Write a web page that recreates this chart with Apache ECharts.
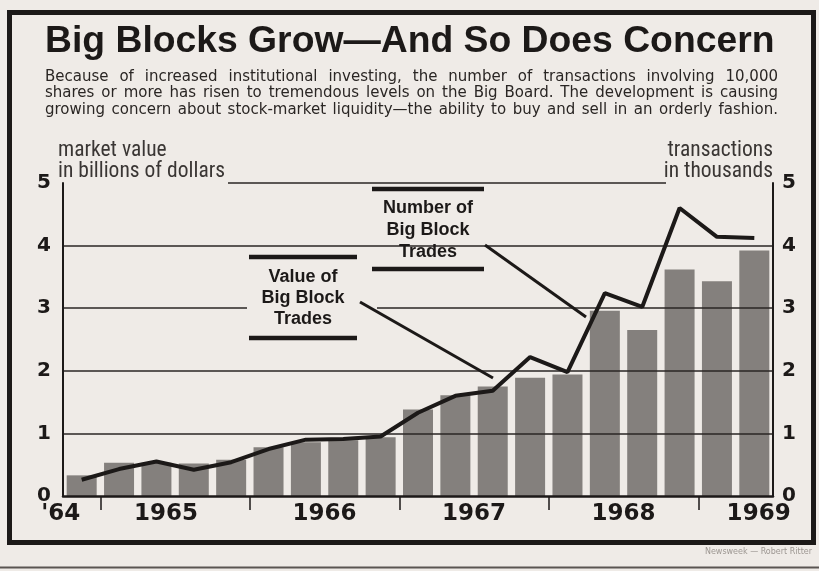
<!DOCTYPE html>
<html>
<head>
<meta charset="utf-8">
<title>Big Blocks Grow—And So Does Concern</title>
<script src="https://cdn.jsdelivr.net/npm/echarts@6/dist/echarts.min.js"></script>
<style>
  html, body { margin: 0; padding: 0; background: #efebe7; }
  #chart { width: 819px; height: 571px; }
</style>
</head>
<body>
<div id="chart"></div>
<script>
// Big block trades on the Big Board (10,000 shares or more), by quarter
const quarters = [
  '1964 Q4',
  '1965 Q1', '1965 Q2', '1965 Q3', '1965 Q4',
  '1966 Q1', '1966 Q2', '1966 Q3', '1966 Q4',
  '1967 Q1', '1967 Q2', '1967 Q3', '1967 Q4',
  '1968 Q1', '1968 Q2', '1968 Q3', '1968 Q4',
  '1969 Q1', '1969 Q2'
];
// market value, billions of dollars (bars, left axis)
const marketValue = [0.33, 0.53, 0.53, 0.52, 0.58, 0.78, 0.86, 0.89, 0.94, 1.38,
  1.61, 1.75, 1.89, 1.94, 2.96, 2.65, 3.62, 3.43, 3.92];
// number of transactions, thousands (line, right axis)
const transactions = [0.26, 0.43, 0.55, 0.42, 0.54, 0.75, 0.90, 0.91, 0.95, 1.33,
  1.60, 1.68, 2.22, 1.98, 3.24, 3.02, 4.60, 4.14, 4.12];
const yearLabels = ['\'64', '1965', '1966', '1967', '1968', '1969'];
const axisMax = 5;

const subtitleLines = [
  'Because of increased institutional investing, the number of transactions involving 10,000',
  'shares or more has risen to tremendous levels on the Big Board. The development is causing',
  'growing concern about stock-market liquidity—the ability to buy and sell in an orderly fashion.'
];

const ink = '#1c1918';
const paper = '#efebe7';
const numFont = '"DejaVu Sans"';
const nameFont = '"Liberation Sans Narrow", "Roboto Condensed", Roboto';

// where each year starts / ends along the quarter axis
const yearOf = q => q.slice(0, 4);
const yearStarts = [];
quarters.forEach((q, i) => {
  if (i === 0 || yearOf(q) !== yearOf(quarters[i - 1])) yearStarts.push(i);
});
const yearEnds = yearStarts.slice(1).concat(quarters.length);
const yearMids = yearStarts.map((s, i) => (s + yearEnds[i]) / 2);
const yearTicks = yearStarts.slice(1);

const chart = echarts.init(document.getElementById('chart'));

const option = {
  backgroundColor: paper,
  animation: false,
  title: {
    text: 'Big Blocks Grow—And So Does Concern',
    left: 45,
    top: 22,
    padding: 0,
    textStyle: {
      fontFamily: '"Liberation Sans"',
      fontWeight: 'bold',
      fontSize: 37.3,
      lineHeight: 40,
      color: ink
    }
  },
  grid: {
    left: 63,
    right: 46,
    top: 183,
    bottom: 75,
    containLabel: false
  },
  xAxis: [
    {
      type: 'category',
      data: quarters,
      z: 3,
      axisLine: { show: true, lineStyle: { color: ink, width: 2.5 } },
      axisTick: { show: false },
      axisLabel: { show: false },
      splitLine: { show: false }
    },
    {
      type: 'value',
      position: 'bottom',
      min: 0,
      max: quarters.length,
      axisLine: { show: false },
      splitLine: { show: false },
      axisTick: {
        show: true,
        customValues: yearTicks,
        length: 14,
        lineStyle: { color: ink, width: 1.5 }
      },
      axisLabel: {
        customValues: yearMids,
        margin: 7,
        color: ink,
        fontFamily: numFont,
        fontWeight: 'bold',
        fontSize: 23,
        formatter: function (val) {
          const i = yearMids.indexOf(val);
          if (i < 0) return '';
          if (i === 0) return '{first|' + yearLabels[i] + '}';
          if (i === 1) return '{second|' + yearLabels[i] + '}';
          if (i === yearMids.length - 1) return '{last|' + yearLabels[i] + '}';
          return yearLabels[i];
        },
        rich: {
          first: { fontFamily: numFont, fontWeight: 'bold', fontSize: 23, color: ink, padding: [0, 42, 0, 0] },
          second: { fontFamily: numFont, fontWeight: 'bold', fontSize: 23, color: ink, padding: [0, 18, 0, 0] },
          last: { fontFamily: numFont, fontWeight: 'bold', fontSize: 23, color: ink, padding: [0, 0, 0, 46] }
        }
      }
    }
  ],
  yAxis: [
    {
      type: 'value',
      min: 0,
      max: axisMax,
      interval: 1,
      z: 3,
      name: 'market value\nin billions of dollars',
      nameLocation: 'end',
      nameGap: 1,
      nameTextStyle: {
        align: 'left',
        verticalAlign: 'bottom',
        fontFamily: nameFont,
        fontSize: 21.5,
        lineHeight: 21,
        color: '#3a3634',
        padding: [0, 0, 0, -5]
      },
      axisLine: { show: true, lineStyle: { color: ink, width: 2 } },
      axisTick: { show: false },
      axisLabel: {
        margin: 12,
        color: ink,
        fontFamily: numFont,
        fontWeight: 'bold',
        fontSize: 20
      },
      splitLine: {
        show: true,
        showMinLine: false,
        showMaxLine: false,
        lineStyle: { color: '#2a2624', width: 1.5 }
      }
    },
    {
      type: 'value',
      min: 0,
      max: axisMax,
      interval: 1,
      z: 3,
      position: 'right',
      name: 'transactions\nin thousands',
      nameLocation: 'end',
      nameGap: 1,
      nameTextStyle: {
        align: 'right',
        verticalAlign: 'bottom',
        fontFamily: nameFont,
        fontSize: 21.5,
        lineHeight: 21,
        color: '#3a3634'
      },
      axisLine: { show: true, lineStyle: { color: ink, width: 2 } },
      axisTick: { show: false },
      axisLabel: {
        margin: 9,
        color: ink,
        fontFamily: numFont,
        fontWeight: 'bold',
        fontSize: 20
      },
      splitLine: { show: false }
    }
  ],
  series: [
    {
      name: 'Value of Big Block Trades',
      type: 'bar',
      data: marketValue,
      barWidth: 30,
      itemStyle: { color: '#84807d' }
    },
    {
      name: 'Number of Big Block Trades',
      type: 'line',
      yAxisIndex: 1,
      data: transactions,
      z: 5,
      symbol: 'none',
      lineStyle: { color: ink, width: 4 }
    }
  ]
};

chart.setOption(option);

// justified intro text, word by word between the frame margins
const subFont = '15px "DejaVu Sans"';
const measure = document.createElement('canvas').getContext('2d');
measure.font = subFont;
const subLeft = 45, subRight = 778;
const subtitleWords = [];
subtitleLines.forEach((line, li) => {
  const words = line.split(' ');
  const widths = words.map(w => measure.measureText(w).width);
  const used = widths.reduce((a, b) => a + b, 0);
  const gap = (subRight - subLeft - used) / (words.length - 1);
  let x = subLeft;
  words.forEach((w, wi) => {
    subtitleWords.push({
      type: 'text', z: 10, x: x, y: 77 + li * 16.5,
      style: { text: w, fill: '#2a2624', font: subFont, textAlign: 'left', textVerticalAlign: 'middle' }
    });
    x += widths[wi] + gap;
  });
});

// top rule at the axis maximum, running between the two axis titles
const yTop = chart.convertToPixel({ yAxisIndex: 0 }, axisMax);
const y3 = chart.convertToPixel({ yAxisIndex: 0 }, 3);

const annoText = {
  fill: ink,
  font: 'bold 18px "Liberation Sans"',
  textAlign: 'center',
  textVerticalAlign: 'top',
  lineHeight: 22
};

chart.setOption({
  graphic: subtitleWords.concat([
    // frame
    { type: 'rect', z: 10, shape: { x: 9.5, y: 12.5, width: 804, height: 530 },
      style: { fill: null, stroke: ink, lineWidth: 5 } },
    { type: 'line', z: 10, shape: { x1: 0, y1: 567.5, x2: 819, y2: 567.5 },
      style: { stroke: '#5a5552', lineWidth: 2 } },
    { type: 'line', z: 10, shape: { x1: 228, y1: yTop, x2: 666, y2: yTop },
      style: { stroke: '#2a2624', lineWidth: 1.5 } },
    // number of trades label
    { type: 'line', z: 10, shape: { x1: 372, y1: 189, x2: 484, y2: 189 },
      style: { stroke: ink, lineWidth: 4.5 } },
    { type: 'text', z: 10, x: 428, y: 197,
      style: Object.assign({ text: 'Number of\nBig Block\nTrades' }, annoText) },
    { type: 'line', z: 10, shape: { x1: 372, y1: 269, x2: 484, y2: 269 },
      style: { stroke: ink, lineWidth: 4.5 } },
    { type: 'line', z: 10, shape: { x1: 485, y1: 245, x2: 586, y2: 317 },
      style: { stroke: ink, lineWidth: 3 } },
    // value of trades label
    { type: 'rect', z: 10, shape: { x: 247, y: y3 - 8, width: 130, height: 16 },
      style: { fill: paper } },
    { type: 'line', z: 11, shape: { x1: 249, y1: 257, x2: 357, y2: 257 },
      style: { stroke: ink, lineWidth: 4.5 } },
    { type: 'text', z: 11, x: 303, y: 267,
      style: Object.assign({ text: 'Value of\nBig Block\nTrades' }, annoText, { lineHeight: 21 }) },
    { type: 'line', z: 11, shape: { x1: 249, y1: 338, x2: 357, y2: 338 },
      style: { stroke: ink, lineWidth: 4.5 } },
    { type: 'line', z: 11, shape: { x1: 360, y1: 302, x2: 493, y2: 378 },
      style: { stroke: ink, lineWidth: 3 } },
    // credit
    { type: 'text', z: 10, x: 812, y: 552,
      style: { text: 'Newsweek — Robert Ritter', fill: '#9d9792', font: '8px "DejaVu Sans"',
        textAlign: 'right', textVerticalAlign: 'middle' } }
  ])
});
</script>
</body>
</html>
